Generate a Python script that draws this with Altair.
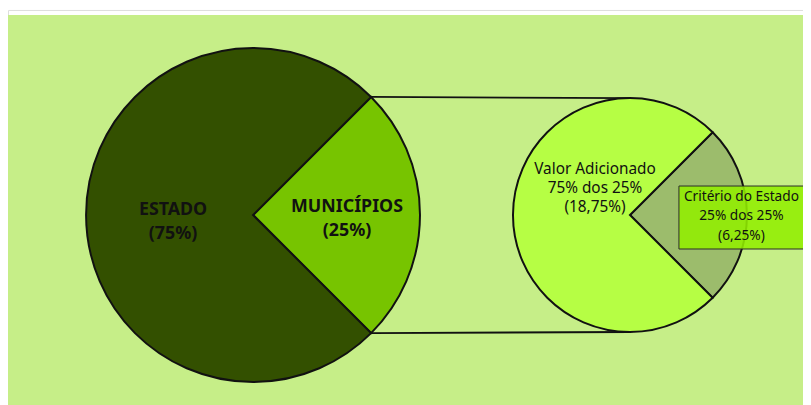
import math
import altair as alt
import pandas as pd

# ---- data ----
main_labels = ["MUNICÍPIOS", "ESTADO"]
main_values = [25, 75]
main_text = ["MUNICÍPIOS\n(25%)", "ESTADO\n(75%)"]

sub_labels = ["Critério do Estado", "Valor Adicionado"]
sub_values = [25, 75]
sub_text = ["Critério do Estado\n25% dos 25%\n(6,25%)", "Valor Adicionado\n75% dos 25%\n(18,75%)"]

colors = ["#77c400", "#335000", "#9cbc6c", "#b6fe44"]

# ---- layout ----
W, H = 803, 397
S = 811 / (W + 16)          # page is slightly wider than the window


def px(v):                  # window pixel -> view pixel
    return v / S - 8


def sz(v):
    return v / S


BG = "#c6ee88"
cx1, cy1, r1 = px(253), px(213), sz(167)
cx2, cy2, r2 = px(630), px(213), sz(117)
start = math.pi / 4
FONT = "Noto Sans"

df_main = pd.DataFrame({"cat": main_labels, "value": main_values, "order": [0, 1]})
df_sub = pd.DataFrame({"cat": sub_labels, "value": sub_values, "order": [0, 1]})
dummy = pd.DataFrame({"k": [0]})

color_scale = alt.Scale(domain=main_labels + sub_labels, range=colors)
theta_scale = alt.Scale(range=[start, start + 2 * math.pi])

bg = alt.Chart(dummy).mark_rect(fill=BG).encode(
    x=alt.value(px(5)), x2=alt.value(W + 10), y=alt.value(px(13)), y2=alt.value(H + 10)
)

vx = cx1 + r1 * math.sin(start)
top_y = cy1 - r1 * math.cos(start)
bot_y = cy1 + r1 * math.cos(start)
line_top = alt.Chart(dummy).mark_rule(color="#111", strokeWidth=1.8).encode(
    x=alt.value(vx), x2=alt.value(cx2), y=alt.value(top_y), y2=alt.value(cy2 - r2)
)
line_bot = alt.Chart(dummy).mark_rule(color="#111", strokeWidth=1.8).encode(
    x=alt.value(vx), x2=alt.value(cx2), y=alt.value(bot_y), y2=alt.value(cy2 + r2)
)

pie1 = alt.Chart(df_main).mark_arc(radius=r1, stroke="#111", strokeWidth=2).encode(
    theta=alt.Theta("value:Q", stack=True, scale=theta_scale),
    color=alt.Color("cat:N", scale=color_scale, legend=None),
    order=alt.Order("order:Q"),
    x=alt.value(cx1), y=alt.value(cy1),
)
pie2 = alt.Chart(df_sub).mark_arc(radius=r2, stroke="#111", strokeWidth=2).encode(
    theta=alt.Theta("value:Q", stack=True, scale=theta_scale),
    color=alt.Color("cat:N", scale=color_scale, legend=None),
    order=alt.Order("order:Q"),
    x=alt.value(cx2), y=alt.value(cy2),
)


def label(text, x, y, size, bold, lh):
    return alt.Chart(pd.DataFrame({"t": [text]})).mark_text(
        lineBreak="\n", font=FONT, fontSize=size, fontWeight="bold" if bold else "normal",
        color="#111", lineHeight=lh, align="center", baseline="middle",
    ).encode(text="t:N", x=alt.value(px(x)), y=alt.value(px(y)))


t_mun = label(main_text[0], 347, 205, 18, True, 24)
t_est = label(main_text[1], 173, 208, 18, True, 24)
t_val = label(sub_text[1], 595, 167, 15.5, False, 19)

box = alt.Chart(dummy).mark_rect(fill="#92ee00", fillOpacity=0.88, stroke="#2a2a2a", strokeWidth=1).encode(
    x=alt.value(px(679)), x2=alt.value(W + 20), y=alt.value(px(184)), y2=alt.value(px(247))
)
t_cri = label(sub_text[0], 741.5, 195, 13.8, False, 19.5)

chart = alt.layer(
    bg, line_top, line_bot, pie1, pie2, t_mun, t_est, t_val, box, t_cri
).resolve_scale(theta="shared").properties(
    width=W, height=H, autosize=alt.AutoSizeParams(type="none"), padding=0
).configure_view(stroke=None).configure(background="white")

chart.save("out.html", embed_options={"renderer": "svg", "actions": False})
